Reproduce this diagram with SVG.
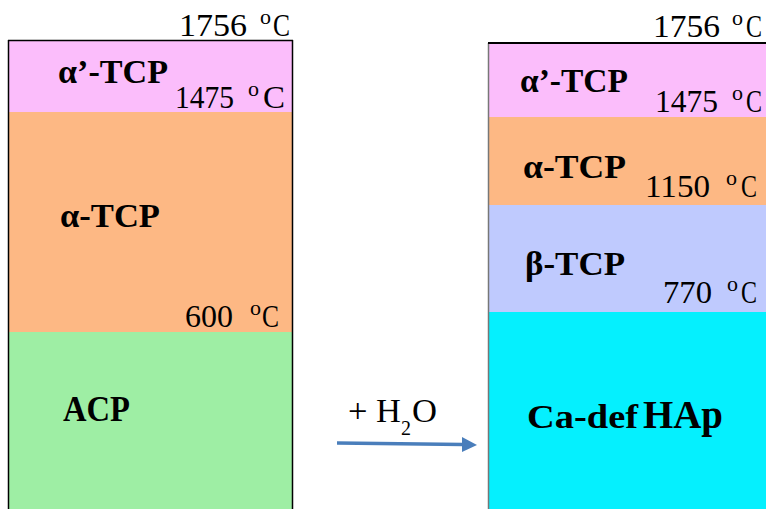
<svg xmlns="http://www.w3.org/2000/svg" width="766" height="509" viewBox="0 0 766 509">
<defs>
<style>
.lbl{font-family:"Liberation Serif","Times New Roman",serif;font-weight:bold;fill:#000}
.tmp{font-family:"Liberation Serif","Times New Roman",serif;fill:#000;font-size:31px}
.sup{font-family:"Liberation Serif","Times New Roman",serif;fill:#000;font-size:22px}
.pink{fill:#fbbdfb}.orange{fill:#fdb884}.green{fill:#9eeea4}.blue{fill:#bfcafe}.cyan{fill:#05f0fe}
</style>
</defs>
<rect width="766" height="509" fill="#fff"/>

<g id="left-column">
  <g id="l-alphaprime">
    <rect class="pink" x="8" y="40" width="285" height="72"/>
    <text class="lbl" x="58" y="83" font-size="33" textLength="110" lengthAdjust="spacingAndGlyphs">α’-TCP</text>
  </g>
  <g id="l-alpha">
    <rect class="orange" x="8" y="112" width="285" height="220"/>
    <text class="lbl" x="60" y="227" font-size="33" textLength="100" lengthAdjust="spacingAndGlyphs">α-TCP</text>
  </g>
  <g id="l-acp">
    <rect class="green" x="8" y="332" width="285" height="177"/>
    <text class="lbl" x="63" y="421" font-size="36" textLength="67" lengthAdjust="spacingAndGlyphs">ACP</text>
  </g>
  <line x1="8.5" y1="40" x2="8.5" y2="509" stroke="#000" stroke-width="1.5"/>
  <line x1="292.5" y1="40" x2="292.5" y2="509" stroke="#000" stroke-width="1.5"/>
  <line x1="8" y1="40.5" x2="293" y2="40.5" stroke="#000" stroke-width="1.5"/>
  <g id="l-t1756">
    <text class="tmp" x="179" y="36" textLength="68" lengthAdjust="spacingAndGlyphs">1756</text>
    <text class="sup" x="260" y="24">o</text>
    <text class="tmp" x="273" y="36" textLength="17" lengthAdjust="spacingAndGlyphs">C</text>
  </g>
  <g id="l-t1475">
    <text class="tmp" x="175" y="108" textLength="59" lengthAdjust="spacingAndGlyphs">1475</text>
    <text class="sup" x="248" y="96">o</text>
    <text class="tmp" x="263" y="108" textLength="22" lengthAdjust="spacingAndGlyphs">C</text>
  </g>
  <g id="l-t600">
    <text class="tmp" x="185" y="327" textLength="48" lengthAdjust="spacingAndGlyphs">600</text>
    <text class="sup" x="250" y="315">o</text>
    <text class="tmp" x="262" y="327" textLength="17" lengthAdjust="spacingAndGlyphs">C</text>
  </g>
</g>

<g id="right-column">
  <g id="r-alphaprime">
    <rect class="pink" x="488" y="43" width="278" height="74"/>
    <text class="lbl" x="520" y="92" font-size="33" textLength="108" lengthAdjust="spacingAndGlyphs">α’-TCP</text>
  </g>
  <g id="r-alpha">
    <rect class="orange" x="488" y="117" width="278" height="88"/>
    <text class="lbl" x="523" y="178" font-size="33" textLength="103" lengthAdjust="spacingAndGlyphs">α-TCP</text>
  </g>
  <g id="r-beta">
    <rect class="blue" x="488" y="205" width="278" height="107"/>
    <text class="lbl" x="525" y="275" font-size="33" textLength="100" lengthAdjust="spacingAndGlyphs">β-TCP</text>
  </g>
  <g id="r-hap">
    <rect class="cyan" x="488" y="312" width="278" height="197"/>
    <text class="lbl" x="527" y="428" font-size="34" textLength="111" lengthAdjust="spacingAndGlyphs">Ca-def</text>
    <text class="lbl" x="643" y="428" font-size="39" textLength="80" lengthAdjust="spacingAndGlyphs">HAp</text>
  </g>
  <line x1="488.5" y1="43" x2="488.5" y2="509" stroke="#777" stroke-width="1.5"/>
  <line x1="488" y1="43" x2="766" y2="43" stroke="#000" stroke-width="2"/>
  <g id="r-t1756">
    <text class="tmp" x="653" y="37" textLength="67" lengthAdjust="spacingAndGlyphs">1756</text>
    <text class="sup" x="732" y="25">o</text>
    <text class="tmp" x="746" y="37" textLength="16" lengthAdjust="spacingAndGlyphs">C</text>
  </g>
  <g id="r-t1475">
    <text class="tmp" x="655" y="112" textLength="63" lengthAdjust="spacingAndGlyphs">1475</text>
    <text class="sup" x="732" y="100">o</text>
    <text class="tmp" x="746" y="112" textLength="16" lengthAdjust="spacingAndGlyphs">C</text>
  </g>
  <g id="r-t1150">
    <text class="tmp" x="645" y="197" textLength="65" lengthAdjust="spacingAndGlyphs">1150</text>
    <text class="sup" x="726" y="185">o</text>
    <text class="tmp" x="741" y="197" textLength="16" lengthAdjust="spacingAndGlyphs">C</text>
  </g>
  <g id="r-t770">
    <text class="tmp" x="663" y="303" textLength="49" lengthAdjust="spacingAndGlyphs">770</text>
    <text class="sup" x="727" y="291">o</text>
    <text class="tmp" x="741" y="303" textLength="16" lengthAdjust="spacingAndGlyphs">C</text>
  </g>
</g>

<g id="connectors">
  <line x1="337" y1="443" x2="463" y2="444.5" stroke="#4a7ebb" stroke-width="3.5"/>
  <polygon points="462,437 477,445 462,452" fill="#4a7ebb"/>
  <g id="h2o-label">
    <text class="tmp" x="348" y="422" style="font-size:33px" textLength="53" lengthAdjust="spacingAndGlyphs">+ H</text>
    <text class="sup" x="401" y="435" textLength="10" lengthAdjust="spacingAndGlyphs">2</text>
    <text class="tmp" x="412" y="422" style="font-size:33px" textLength="25" lengthAdjust="spacingAndGlyphs">O</text>
  </g>
</g>
</svg>
